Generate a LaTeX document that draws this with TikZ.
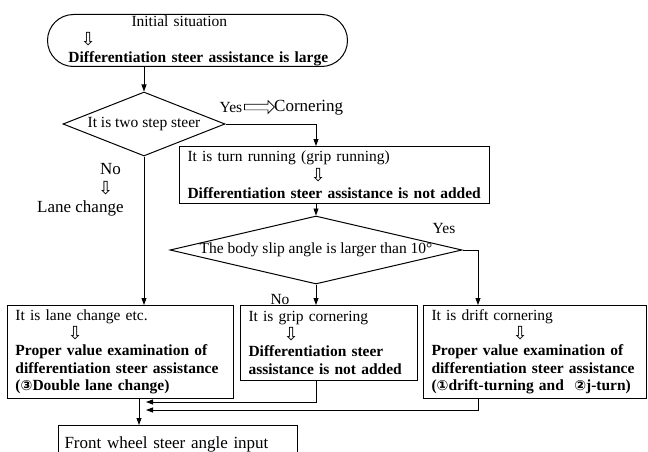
\documentclass[tikz,border=0pt]{standalone}
\usepackage{fontspec}
\setmainfont{Liberation Serif}
\newfontfamily\symfont{DejaVu Sans}
\usetikzlibrary{arrows.meta,shapes.geometric,shapes.arrows}
\newcommand{\dn}{\smash{\raisebox{-1pt}{\symfont\fontsize{18}{18}\selectfont ⇩}}}
\newcommand{\cn}[1]{{\symfont\fontsize{14}{14}\selectfont #1}}

\begin{document}
\begin{tikzpicture}[x=1pt,y=-1pt,
  font=\fontsize{15.5}{17.5}\selectfont,
  procbox/.style={draw, line width=1pt, anchor=north west, inner xsep=8pt,
    inner ysep=0pt, align=left},
  decision/.style={draw, diamond, line width=1pt, inner sep=0pt},
  flow/.style={line width=0.8pt, -{Triangle[length=7pt,width=5pt]}},
  biglabel/.style={font=\fontsize{17}{19}\selectfont}]
\useasboundingbox (0,0) rectangle (648,452);
% start of the chart
\node[draw, line width=1pt, rounded corners=26pt, anchor=north west,
  minimum width=300pt, minimum height=52pt, text width=284pt, inner xsep=8pt,
  inner ysep=0pt, align=left, font=\fontsize{15.5}{18}\selectfont] (start) at (47,14)
  {\hspace*{76pt}Initial situation\\\hspace*{25pt}\dn\\\hspace*{13pt}\textbf{Differentiation steer assistance is large}};
% decisions
\node[decision, minimum width=162pt, minimum height=64pt,
  label=center:It is two step steer] (twostep) at (144,124) {};
\node[decision, minimum width=292pt, minimum height=68pt,
  label=center:The body slip angle is larger than 10°] (slip) at (316,250) {};
% boxes
\node[procbox, minimum width=310pt, minimum height=57pt, text width=294pt,
  font=\fontsize{15.5}{18.5}\selectfont] (turn) at (179,146)
  {It is turn running (grip running)\\\hspace*{123pt}\dn\\\textbf{Differentiation steer assistance is not added}};
\node[procbox, minimum width=226pt, minimum height=93pt, text width=210pt] (lane) at (7,305)
  {It is lane change etc.\\\hspace*{52pt}\dn\\\textbf{Proper value examination of}\\
   \textbf{differentiation steer assistance}\\\textbf{(\cn{③}Double lane change)}};
\node[procbox, minimum width=177pt, minimum height=75pt, text width=161pt] (grip) at (240,305)
  {It is grip cornering\\\hspace*{35pt}\dn\\\textbf{Differentiation steer}\\
   \textbf{assistance is not added}};
\node[procbox, minimum width=223pt, minimum height=93pt, text width=207pt] (drift) at (423,305)
  {It is drift cornering\\\hspace*{81pt}\dn\\\textbf{Proper value examination of}\\
   \textbf{differentiation steer assistance}\\\textbf{(\cn{①}drift-turning and \ \cn{②}j-turn)}};
\node[procbox, biglabel, minimum width=239pt, minimum height=37pt, text width=227pt,
  inner xsep=6pt] (input) at (58,425) {Front wheel steer angle input};
% labels
\node (yes1) at (231,108) {Yes};
\node[single arrow, draw, line width=0.7pt, minimum height=30pt, inner xsep=0pt,
  inner ysep=2.5pt, single arrow head extend=3.5pt] (yesarr) at (258,107) {};
\node[anchor=west, biglabel, inner xsep=0pt] (corner) at (274,108) {Cornering};
\node[align=left, anchor=north west, inner sep=0pt, biglabel] (nolane) at (37,163)
  {\hspace*{63pt}No\\\hspace*{61pt}\dn\\Lane change};
\node (yes2) at (444,228) {Yes};
\node (no2) at (280,299) {No};
% connector bends
\coordinate (k1) at (316,146);
\coordinate (k2) at (478,305);
\coordinate (k3) at (139,398);
\coordinate (m1) at (146,402);
\coordinate (m2) at (146,410);
% connectors
\draw[flow] (twostep.north |- start.south) -- (twostep.north);
\draw[flow] (twostep.east) -| (k1);
\draw[flow] (twostep.south) -- (twostep.south |- lane.north);
\draw[flow] (slip.north |- turn.south) -- (slip.north);
\draw[flow] (slip.south) -- (slip.south |- grip.north);
\draw[flow] (slip.east) -| (k2);
\draw[flow] (slip.south |- grip.south) |- (m1);
\draw[flow] (k2 |- drift.south) |- (m2);
\draw[flow] (k3) -- (k3 |- input.north);
\end{tikzpicture}
\end{document}
